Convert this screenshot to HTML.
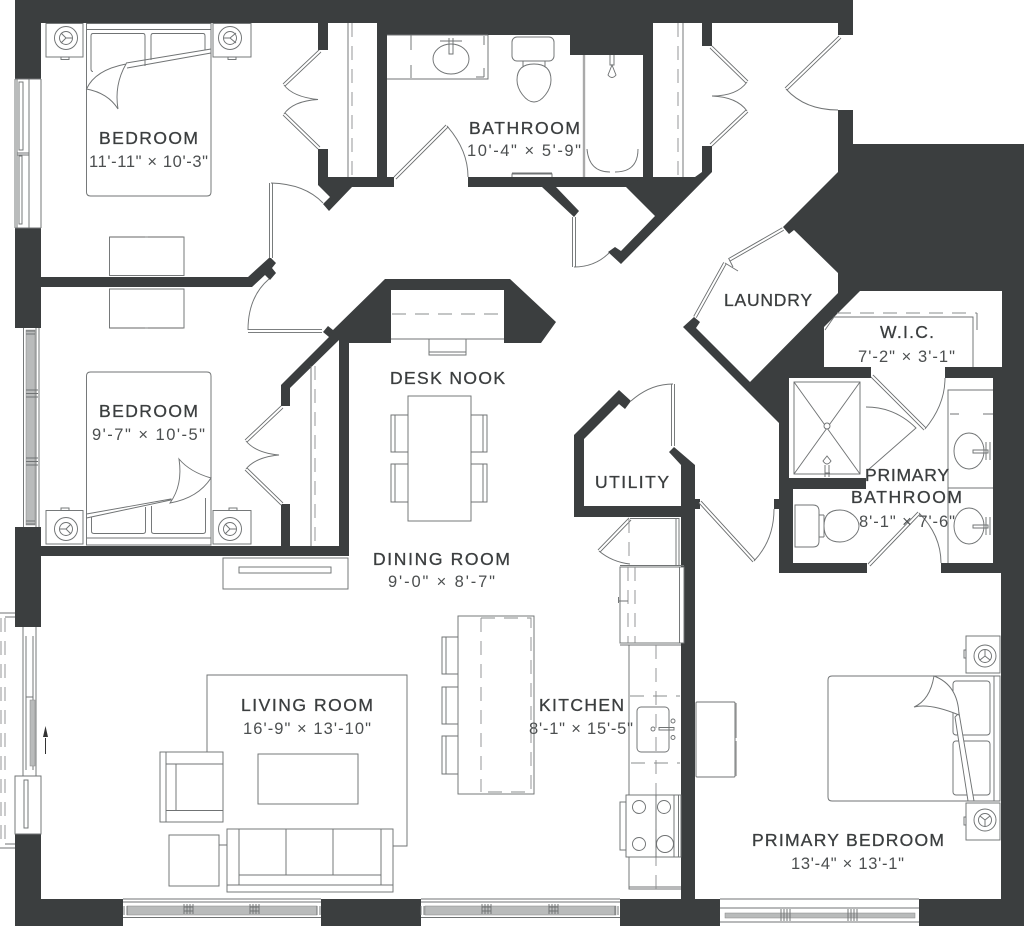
<!DOCTYPE html>
<html><head><meta charset="utf-8"><title>Floor plan</title>
<style>
html,body{margin:0;padding:0;background:#fff;width:1024px;height:926px;overflow:hidden}
svg{display:block}
.w{fill:#3b3e3f;stroke:none}
.l{fill:none;stroke:#707374;stroke-width:.95}
.f{fill:#fff;stroke:#707374;stroke-width:.95}
.d{fill:none;stroke:#8a8c8d;stroke-width:.9;stroke-dasharray:14 9}
.g{fill:#b9bbbb;stroke:#888;stroke-width:.5}
text{font-family:"Liberation Sans",sans-serif}
.h{font-size:17.500px;fill:#3b3e3f;stroke:#3b3e3f;stroke-width:.3}
.s{font-size:16.500px;fill:#4c4f50}
</style></head><body>
<svg width="1024" height="926" viewBox="0 0 1024 926" xmlns="http://www.w3.org/2000/svg">
<defs>
<g id="leaves" fill="none" stroke-linecap="butt">
<path d="M320 51L284 85M284 114L319 148M271 183V258M395 178L447 126M248 331H322M282 407L246 441M246 469L282 504M711 47L747 82M747 111L711 145M840 37L786 89M574 217V267M783 229L729 260M725 263L695 317M673 384V446M700 502L754 561M872 376L925 429M869 565L919 513M630 519L599 551"/>
</g>
</defs>

<!-- walls -->
<g class="w">
<rect x="15" y="0" width="838" height="23"/>
<rect x="387" y="23" width="183" height="12"/>
<rect x="570" y="23" width="83" height="32"/>
<rect x="838" y="23" width="15" height="12"/>
<rect x="15" y="0" width="26" height="79"/>
<rect x="15" y="228" width="26" height="100"/>
<rect x="15" y="527" width="26" height="100"/>
<rect x="15" y="834" width="26" height="92"/>
<rect x="15" y="899" width="108" height="27"/>
<rect x="321" y="899" width="100" height="27"/>
<rect x="620" y="899" width="100" height="27"/>
<rect x="41" y="546" width="308" height="10"/>
<rect x="281" y="504" width="9" height="42"/>
<rect x="377" y="23" width="10" height="164"/>
<rect x="468" y="177" width="175" height="10"/>
<rect x="643" y="55" width="10" height="132"/>
<rect x="702" y="23" width="10" height="23"/>
<polygon points="318,23 328,23 328,50 318,50"/>
<polygon points="318,149 328,149 328,177 394,177 394,187 352,187 329,211 323,204 330,197 318,185"/>
<polygon points="41,277 248,277 270,257 276,263 272,268 276,273 270,280 265,275 252,287 41,287"/>
<polygon points="702,146 712,146 712,172 621,264 608,252 615,247 621,251 655,216 626,187 643,177 695,177 702,172"/>
<polygon points="542,187 556,187 579,211 574,217"/>
<polygon points="385,279 510,279 556,322 541,343 504,343 504,290 391,290 391,343 349,343 349,556 339,556 339,340 290,388 290,406 281,406 281,385 329,337 323,332 328,326 333,330"/>
<polygon points="574,435 619,390 631,401 625,409 619,404 584,439 584,506 681,506 681,465 669,452 674,447 695,465 695,499 700,499 700,509 695,509 695,899 681,899 681,517 574,517"/>
<polygon points="838,110 853,110 853,144 1024,144 1024,926 919,926 919,899 1001,899 1001,573 941,573 941,563 993,563 993,378 945,378 945,367 1002,367 1002,291 860,291 824,327 824,367 871,367 871,378 789,378 789,478 866,478 866,489 793,489 793,563 867,563 867,573 779,573 779,509 774,509 774,499 779,499 779,423 683,327 694,317 700,322 696,328 750,382 838,293 838,273 794,230 789,234 783,227 838,172"/>
</g>

<!-- doors -->
<use href="#leaves" stroke="#6a6d6e" stroke-width="3.800"/>
<use href="#leaves" stroke="#ffffff" stroke-width="2"/>
<path class="l" d="M284 85Q293 97 318 99.5Q293 101 284 114M271 183Q305 184 323 203M447 126Q468 150 468 177M248 330Q248 297 269 279M246 441Q256 453 279 455Q256 457 246 469M747 82Q737 96 712 96Q737 97 747 111M786 89Q805 110 838 110M574 267Q595 267 609 253M725 263L738 271M729 259L733 267M673 384Q650 384 631 401M754 561Q774 540 774 509M925 429Q945 405 945 378M866 407Q895 407 916 428L868 470M919 513Q941 535 941 563M630 564Q612 562 599 551"/>

<!-- left windows -->
<g class="l">
<path d="M15 79V228M17 79V228M29 79V228M41 79V228M15 79H41M15 228H41M17 153H29M17 155H29"/>
<rect x="19" y="82" width="4" height="68"/>
<rect x="19" y="156" width="3" height="68"/>
<path d="M23.500 328V527M39 328V527M36 328V527"/>
<path d="M23 627V776M36 627V776M15 776H41V834H15Z"/>
<path d="M26 636V770M33 636V770M26 697H33"/>
<rect x="24" y="780" width="4" height="48"/>
<path d="M15 613H0M15 617H5M15 848H0M15 844H5"/>
</g>
<rect class="g" x="26" y="330" width="9" height="195"/>
<g class="l" fill="#fff"><path d="M26 390H38M26 393.500H38M26 397H38M26 458H38M26 461.500H38M26 465H38M26 331H35M26 334H35M26 521H35M26 524H35"/></g>
<rect class="g" x="30" y="700" width="5" height="66"/>
<path class="d" d="M1 618V845M5 618V845" stroke-dasharray="12 10"/>
<path d="M45.500 754V738" stroke="#333" stroke-width="1"/>
<polygon points="45.500,726 43,737 48,737" fill="#333"/>

<!-- bottom windows -->
<g class="l">
<path d="M123 899H321M123 902H321M123 917.500H321M421 899H620M421 902H620M421 917.500H620M720 899H919M720 908H919M720 922H919"/>
</g>
<rect class="g" x="127" y="906" width="190" height="9"/>
<rect class="g" x="425" y="906" width="191" height="9"/>
<rect class="g" x="725" y="913" width="190" height="5"/>
<g class="l">
<path d="M184 904V914M187 904V914M190 904V914M193 904V914M184 907H193M184 911H193"/>
<path d="M250 904V914M253 904V914M256 904V914M259 904V914M250 907H259M250 911H259"/>
<path d="M124 906V915M127 906V915M317 906V915M320 906V915"/>
<path d="M482 904V914M485 904V914M488 904V914M491 904V914M482 907H491M482 911H491"/>
<path d="M549 904V914M552 904V914M555 904V914M558 904V914M549 907H558M549 911H558"/>
<path d="M421 906V915M424 906V915M615 906V915M618 906V915"/>
<path d="M781 909V921M784 909V921M787 909V921M790 909V921M848 909V921M851 909V921M854 909V921M857 909V921"/>
</g>

<!-- bedroom 1 -->
<g>
<rect class="f" x="46" y="23.500" width="37" height="33.500"/>
<rect class="f" x="213" y="23.500" width="38" height="33.500"/>
<rect class="l" x="61" y="57" width="8" height="2.500"/>
<rect class="l" x="228" y="57" width="8" height="2.500"/>
<circle class="l" cx="66" cy="38" r="11.500"/><circle class="l" cx="66" cy="38" r="6.500"/>
<path class="l" d="M66 38L61 33M66 38L61 43M66 38H72"/>
<circle class="l" cx="230" cy="38" r="11.500"/><circle class="l" cx="230" cy="38" r="6.500"/>
<path class="l" d="M230 38L236 33M230 38L236 43M230 38H224"/>
<path class="f" d="M86.500 23.500H211V192Q211 196 207 196H90.500Q86.500 196 86.500 192Z"/>
<path class="l" d="M86.500 29.500H211"/>
<path class="l" d="M93 71.500Q91 71.500 91 69V36Q91 33.500 93 33.500H143Q145 33.500 145 36V66M151 60V36Q151 33.500 153 33.500H203Q205 33.500 205 36V50"/>
<path class="l" d="M211 49L126 63M211 53L127 68"/>
<path class="f" d="M126 64Q95 70 86.500 89Q108 93 118 109Q114 85 126 64Z"/>
<rect class="l" x="109.500" y="237" width="74.500" height="38.500"/>
<rect class="l" x="109.500" y="289" width="74.500" height="39"/>
<path d="M110 237H145M148 237H183M110 328H145M148 328H183" stroke="#999" stroke-width="1.500"/>
<path class="l" d="M348 23V177"/><path class="d" d="M352 23V177"/>
</g>

<!-- bedroom 2 -->
<g>
<path class="f" d="M86.500 545H211V376Q211 372 207 372H90.500Q86.500 372 86.500 376Z"/>
<path class="l" d="M86.500 538H211"/>
<path class="l" d="M91.500 517V531Q91.500 533.500 94 533.500H143Q145.500 533.500 145.500 531V507M151.500 506V531Q151.500 533.500 154 533.500H203Q205.500 533.500 205.500 531V498"/>
<path class="f" d="M86.500 514L171 499L171 500L86.500 518Z"/>
<path class="f" d="M211 478Q190 472 179 459Q183 485 170 503Q198 498 211 478Z"/>
<rect class="f" x="46" y="510.500" width="37" height="33.500"/>
<rect class="f" x="213" y="510.500" width="38" height="33.500"/>
<rect class="l" x="61" y="508" width="8" height="2.500"/>
<rect class="l" x="229" y="508" width="8" height="2.500"/>
<circle class="l" cx="66" cy="529" r="11.500"/><circle class="l" cx="66" cy="529" r="6.500"/>
<path class="l" d="M66 529L71 524M66 529L71 534M66 529H60"/>
<circle class="l" cx="230" cy="529" r="11.500"/><circle class="l" cx="230" cy="529" r="6.500"/>
<path class="l" d="M230 529L225 524M230 529L225 534M230 529H236"/>
<path class="l" d="M311 366V546"/><path class="d" d="M315 366V546"/>
</g>

<!-- bath -->
<g>
<path class="l" d="M387 79H488V35M411 35V50M411 65V78M484 36V45M484 68V77M476 77H484M387 35H488"/>
<ellipse class="l" cx="451" cy="59" rx="18" ry="15"/>
<path class="l" d="M440 41H462M449 38V54H453V38"/>
<rect class="l" x="512" y="37" width="42" height="24" rx="5"/>
<path class="l" d="M523 61V66M545 61V66M534 64C522 64 517 70 517 80C517 90 526 102 534 102C542 102 551 90 551 80C551 70 546 64 534 64Z"/>
<path d="M584 55V177" stroke="#aaa" stroke-width="2.400"/>
<path class="l" d="M587 149Q589 172 610 172M615 172Q638 172 638 149M610 55V65H614V55M612 65L608 75Q612 80 616 75Z"/>
<path class="l" d="M512 177V174H552V177M512 173H552"/>
<path class="l" d="M683 23V177"/><path class="d" d="M678 23V177"/>
</g>

<!-- desk nook -->
<path class="l" d="M391 339H504"/>
<path class="d" d="M392 314H503" stroke-dasharray="14 12"/>
<path class="l" d="M429 339V355H466V339M429 352H466"/>
<rect class="f" x="408" y="396" width="63" height="125"/>
<path class="l" d="M408 415H391V452H408M395 415V452M408 464H391V502H408M395 464V502M471 415H487V452H471M483 415V452M471 464H487V502H471M483 464V502"/>

<!-- console -->
<rect class="l" x="223" y="558" width="125" height="31"/>
<rect class="l" x="239" y="567" width="92" height="6"/>

<!-- living -->
<path class="l" d="M207 752V675H407V846H393M227 845H207V835"/>
<rect class="f" x="160" y="752" width="63" height="70"/>
<path class="l" d="M166 752V822M166 764H223M166 810.500H223M176 764V810.500"/>
<rect class="l" x="258" y="754" width="100" height="50"/>
<rect class="f" x="169" y="835" width="50" height="51"/>
<rect class="f" x="227" y="829" width="166" height="63"/>
<path class="l" d="M239 829V885M381 829V885M227 885H393M239 875H381M286 829V875M333 829V875"/>

<!-- island -->
<rect class="f" x="458" y="616" width="76" height="178"/>
<path class="l" d="M458 637H442V674H458M446 637V674M458 687H442V724H458M446 687V724M458 736H442V774H458M446 736V774"/>
<path class="d" d="M481 618V792M481 618H531V792H481"/>

<!-- kitchen -->
<path class="l" d="M630 518.500H679V565M676 518.500V565"/>
<path class="d" d="M629 519V565" stroke-dasharray="10 8"/>
<rect class="f" x="620" y="567" width="64" height="76"/>
<path class="l" d="M679.500 567V643M620 565.500H684M620 645H681"/>
<path class="d" d="M628 567V643M635 567V643" stroke-dasharray="12 7"/>
<path class="l" d="M619 601H628M618.500 597V603"/>
<path class="l" d="M629 645V795M629 857V889H681M629 887H681"/>
<path class="d" d="M656 645V890"/>
<path class="d" d="M630 696H680M631 763H680" stroke-dasharray="10 7"/>
<rect class="l" x="637" y="707" width="32" height="45" rx="4" fill="#fff"/>
<path class="l" d="M659 727.500H674V730H659Z"/>
<circle class="l" cx="653" cy="729" r="2"/><circle class="l" cx="673" cy="721" r="2"/><circle class="l" cx="673" cy="737.500" r="2"/>
<rect class="l" x="626" y="795" width="55" height="62"/>
<rect class="l" x="620" y="802" width="6" height="48"/>
<path class="l" d="M674 795V857M678.500 795V857M656 795V857"/>
<circle class="l" cx="639" cy="807" r="6.500"/><circle class="l" cx="664" cy="807" r="6.500"/>
<circle class="l" cx="639" cy="844" r="6.500"/><circle class="l" cx="665" cy="844" r="8.500"/>

<!-- primary bedroom -->
<rect class="f" x="696" y="702" width="39" height="75" rx="1"/>
<path d="M736 703V738M736 741V776" stroke="#999" stroke-width="1.400"/>
<path class="f" d="M1000 676H832Q828 676 828 680V797Q828 801 832 801H1000Z"/>
<path class="l" d="M994 676V801"/>
<rect class="l" x="953" y="681" width="37" height="54" rx="3"/>
<rect class="l" x="953" y="741" width="37" height="54" rx="3"/>
<path class="f" d="M955 717L968 801H974L959 713Z"/>
<path class="f" d="M934 676Q958 685 959 715Q930 703 914 707Q930 700 934 676Z"/>
<rect class="f" x="966" y="636" width="34" height="37"/>
<rect class="f" x="966" y="803" width="34" height="37"/>
<rect class="l" x="964" y="650" width="2" height="8"/>
<rect class="l" x="964" y="817" width="2" height="8"/>
<circle class="l" cx="985" cy="656" r="11"/><circle class="l" cx="985" cy="656" r="6.500"/>
<path class="l" d="M985 656V650M985 656L980 660M985 656L990 660"/>
<circle class="l" cx="985" cy="820" r="11"/><circle class="l" cx="985" cy="820" r="6.500"/>
<path class="l" d="M985 820V826M985 820L980 816M985 820L990 816"/>

<!-- WIC -->
<path class="l" d="M825 330L834 317H973V367"/>
<path class="d" d="M837 313H977" stroke-dasharray="14 8"/>
<path class="l" d="M977 313V330"/>

<!-- primary bath -->
<rect class="l" x="794" y="382" width="66" height="92"/>
<path class="l" d="M794 382L860 474M860 382L794 474"/>
<circle class="f" cx="827" cy="426" r="3"/>
<path class="f" d="M827 456L823 461Q827 467 831 461Z"/>
<path class="l" d="M825 465V477M829 465V477M825 473H830"/>
<path class="l" d="M948 563V390H993M948 488H993"/>
<path class="l" d="M950 414H959M983 414H993"/>
<ellipse class="l" cx="969" cy="451" rx="15" ry="18"/>
<ellipse class="l" cx="969" cy="526" rx="15" ry="18"/>
<path class="l" d="M973 450H988V453H973ZM986 442V460M990 442V460M973 525H988V528H973ZM986 517V535M990 517V535"/>
<path class="l" d="M795 505H813Q819 505 819 511V541Q819 547 813 547H795Z"/>
<path class="l" d="M819 515H824M819 537H824M824 515V537M824 526C824 513 832 510 840 510C850 510 859 518 859 526C859 534 850 542 840 542C832 542 824 539 824 526Z"/>

<!-- labels -->
<text class="h" x="99" y="144" textLength="99" lengthAdjust="spacing">BEDROOM</text>
<text class="s" x="89" y="167" textLength="119" lengthAdjust="spacing">11'-11" × 10'-3"</text>
<text class="h" x="469" y="134" textLength="111" lengthAdjust="spacing">BATHROOM</text>
<text class="s" x="467" y="156" textLength="114" lengthAdjust="spacing">10'-4" × 5'-9"</text>
<text class="h" x="99" y="417" textLength="99" lengthAdjust="spacing">BEDROOM</text>
<text class="s" x="92" y="440" textLength="113" lengthAdjust="spacing">9'-7" × 10'-5"</text>
<text class="h" x="390" y="384" textLength="115" lengthAdjust="spacing">DESK NOOK</text>
<text class="h" x="373" y="565" textLength="137" lengthAdjust="spacing">DINING ROOM</text>
<text class="s" x="388" y="587" textLength="107" lengthAdjust="spacing">9'-0" × 8'-7"</text>
<text class="h" x="724" y="306" textLength="88" lengthAdjust="spacing">LAUNDRY</text>
<text class="h" x="880" y="338" textLength="54" lengthAdjust="spacing">W.I.C.</text>
<text class="s" x="858" y="362" textLength="97" lengthAdjust="spacing">7'-2" × 3'-1"</text>
<text class="h" x="595" y="488" textLength="74" lengthAdjust="spacing">UTILITY</text>
<text class="h" x="865" y="481" textLength="84" lengthAdjust="spacing">PRIMARY</text>
<text class="h" x="851" y="503" textLength="111" lengthAdjust="spacing">BATHROOM</text>
<text class="s" x="859" y="527" textLength="96" lengthAdjust="spacing">8'-1" × 7'-6"</text>
<text class="h" x="241" y="711" textLength="132" lengthAdjust="spacing">LIVING ROOM</text>
<text class="s" x="243" y="734" textLength="128" lengthAdjust="spacing">16'-9" × 13'-10"</text>
<text class="h" x="539" y="711" textLength="85" lengthAdjust="spacing">KITCHEN</text>
<text class="s" x="529" y="734" textLength="104" lengthAdjust="spacing">8'-1" × 15'-5"</text>
<text class="h" x="752" y="846" textLength="192" lengthAdjust="spacing">PRIMARY BEDROOM</text>
<text class="s" x="791" y="869" textLength="113" lengthAdjust="spacing">13'-4" × 13'-1"</text>
</svg>
</body></html>
